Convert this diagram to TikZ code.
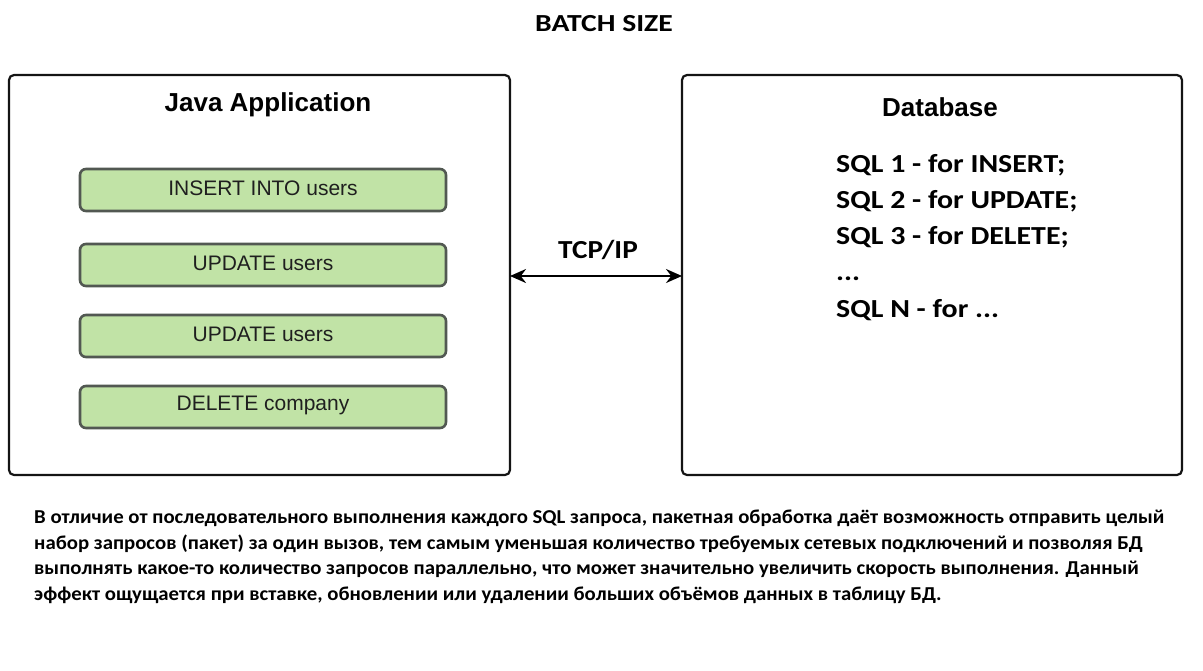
\documentclass[tikz,border=0pt]{standalone}
\usepackage{fontspec}
\setmainfont{Carlito}
\newfontfamily\arialf{Liberation Sans}
\newfontfamily\titlef[FakeStretch=1.21]{Carlito}
\newfontfamily\sqlf[FakeStretch=1.15]{Carlito}
\newfontfamily\tcpf[FakeStretch=1.125]{Carlito}
\newfontfamily\paraf[FakeStretch=1.055]{Carlito}
\usetikzlibrary{arrows.meta}
\definecolor{boxgreen}{RGB}{193,227,166}
\definecolor{boxedge}{RGB}{82,88,82}
\definecolor{frameedge}{RGB}{20,20,20}
\tikzset{
  frame/.style={draw=frameedge, line width=2.2pt, rounded corners=5pt, fill=white},
  opbox/.style={draw=boxedge, line width=2.6pt, rounded corners=6pt, fill=boxgreen},
  oplabel/.style={font=\arialf\fontsize{21}{25}\selectfont, text=black!88},
  frametitle/.style={font=\arialf\bfseries\fontsize{26}{30}\selectfont},
  sqlline/.style={anchor=base west, inner sep=0pt, font=\sqlf\bfseries\fontsize{26}{30}\selectfont},
  para/.style={anchor=base west, inner sep=0pt, font=\paraf\bfseries\fontsize{19.7}{24}\selectfont},
  bothtips/.style={arrows={Stealth[length=16pt,width=14pt]-Stealth[length=16pt,width=14pt]}},
}
\begin{document}
\begin{tikzpicture}[x=1pt,y=-1pt]
\useasboundingbox (0,0) rectangle (1203,670);
\node[inner sep=0pt, anchor=base, font=\titlef\bfseries\fontsize{24.5}{28}\selectfont] (title) at (604,31) {BATCH SIZE};

% frames
\draw[frame] (9,75) rectangle (510,475);
\coordinate (javaR) at (510,276);
\draw[frame] (682,75) rectangle (1182,475);
\coordinate (dbL) at (682,276);

\node[frametitle, inner sep=0pt, anchor=base] (javat) at (268,111.5) {Java Application};
\node[frametitle, inner sep=0pt, anchor=base] (dbt) at (940,116) {Database};

% operations
\draw[opbox] (80,169) rectangle (446,211);
\node[oplabel] (op1) at (263,188) {INSERT INTO users};
\draw[opbox] (80,244) rectangle (446,286);
\node[oplabel] (op2) at (263,263) {UPDATE users};
\draw[opbox] (80,315) rectangle (446,357);
\node[oplabel] (op3) at (263,334) {UPDATE users};
\draw[opbox] (80,386) rectangle (446,428);
\node[oplabel] (op4) at (263,405) {DELETE company};

% SQL list
\node[sqlline] (s1) at (836,172) {SQL 1 - for INSERT;};
\node[sqlline] (s2) at (836,208) {SQL 2 - for UPDATE;};
\node[sqlline] (s3) at (836,244) {SQL 3 - for DELETE;};
\node[sqlline] (s4) at (836,280) {...};
\node[sqlline] (s5) at (836,317) {SQL N - for ...};

% connection
\draw[line width=2pt, bothtips] (javaR) -- (dbL);
\node[inner sep=0pt, anchor=base, font=\tcpf\bfseries\fontsize{26}{30}\selectfont] (tcp) at (598,258) {TCP/IP};

% paragraph
\node[para] (p1) at (34,523) {В отличие от последовательного выполнения каждого SQL запроса, пакетная обработка даёт возможность отправить целый};
\node[para] (p2) at (34,549) {набор запросов (пакет) за один вызов, тем самым уменьшая количество требуемых сетевых подключений и позволяя БД};
\node[para] (p3) at (34,574) {выполнять какое-то количество запросов параллельно, что может значительно увеличить скорость выполнения. Данный};
\node[para] (p4) at (34,600) {эффект ощущается при вставке, обновлении или удалении больших объёмов данных в таблицу БД.};
\end{tikzpicture}
\end{document}
